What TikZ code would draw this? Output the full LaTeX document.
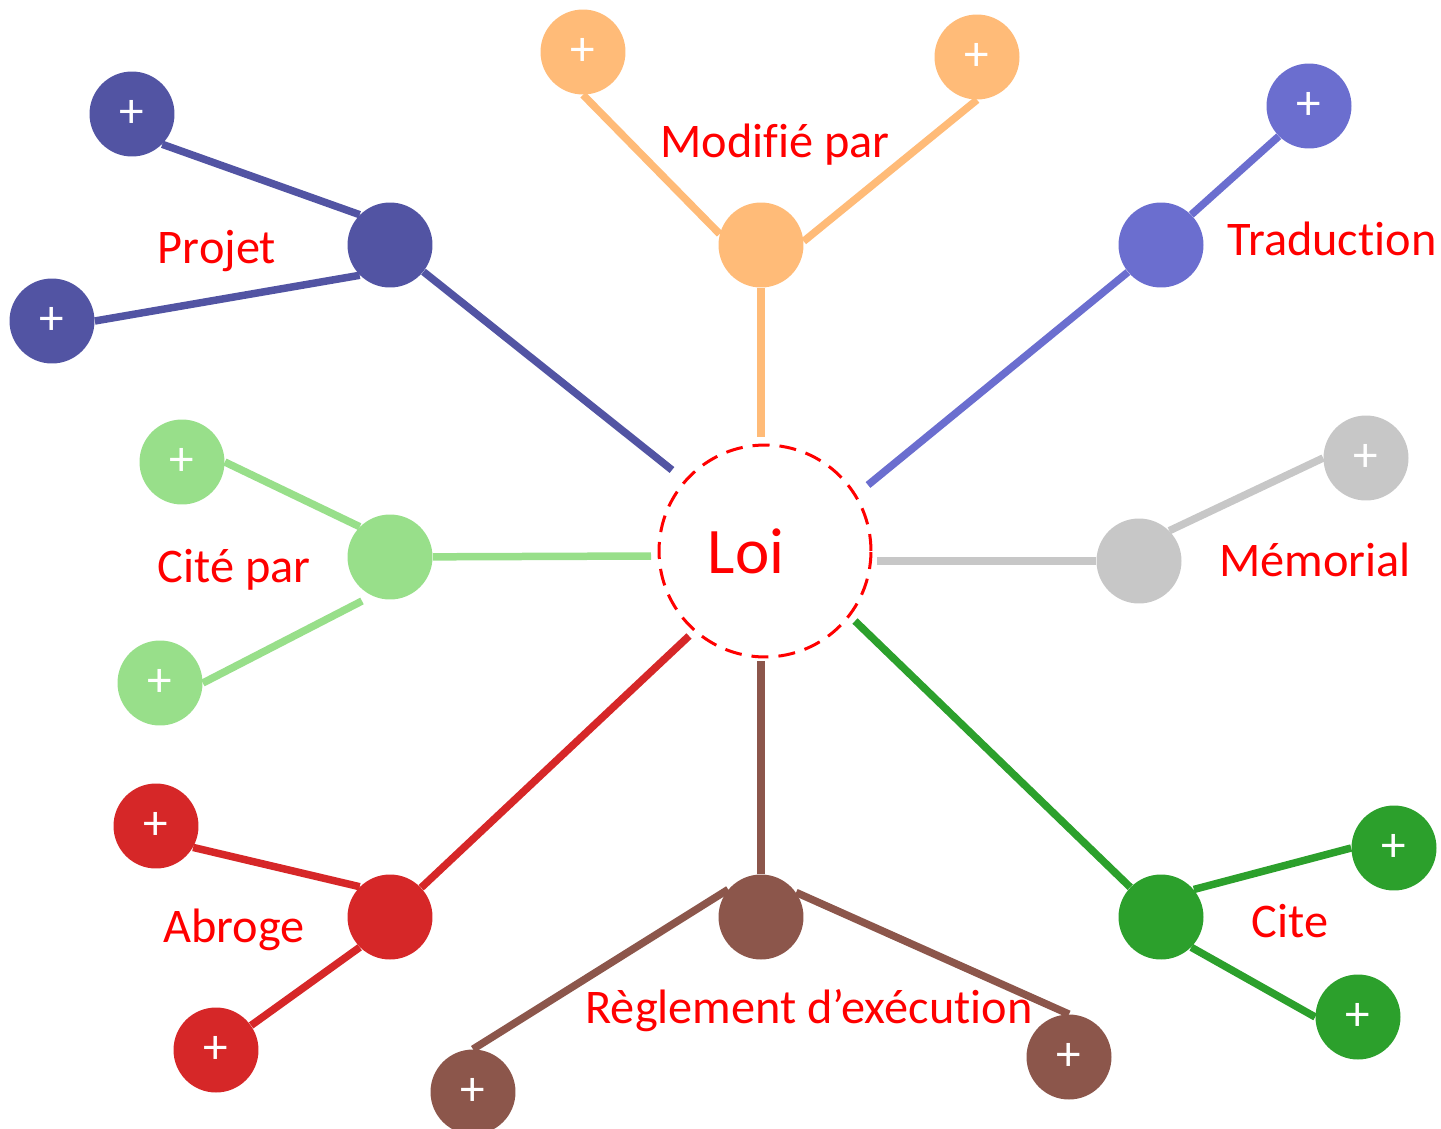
\documentclass[tikz,border=0pt]{standalone}
\usepackage{fontspec}
\setmainfont{Carlito}[Ligatures=CommonOff]
\usetikzlibrary{shapes}
\definecolor{projetcol}{HTML}{5254A3}
\definecolor{modifcol}{HTML}{FFBB78}
\definecolor{tradcol}{HTML}{6B6ECF}
\definecolor{memocol}{HTML}{C7C7C7}
\definecolor{citecol}{HTML}{2CA02C}
\definecolor{reglcol}{HTML}{8C564B}
\definecolor{abrocol}{HTML}{D62728}
\definecolor{citeparcol}{HTML}{98DF8A}

\begin{document}
\begin{tikzpicture}[x=0.02cm,y=-0.02cm,
loinode/.style={circle, draw=red, line width=0.06cm, dash pattern=on 0.34cm off 0.2cm, minimum size=4.24cm, inner sep=0pt},
hubnode/.style={circle, minimum size=1.7cm, inner sep=0pt},
leafnode/.style={circle, minimum size=1.7cm, inner sep=0pt, text=white, font=\fontsize{28}{28}\selectfont},
labelnode/.style={text=red, font=\fontsize{27.5}{30}\selectfont},
branch/.style={line width=0.15cm}
]
\useasboundingbox (0,0) rectangle (1441,1129);

%Nodes
\node[loinode] at (765,551) (LOI) {};
\node[text=red, font=\fontsize{37}{40}\selectfont] at (746,551) (LOI-label) {Loi};

\node[hubnode,fill=projetcol] at (390,245) (P) {};
\node[leafnode,fill=projetcol] at (132,114) (P-1) {+};
\node[leafnode,fill=projetcol] at (52,321) (P-2) {+};
\node[labelnode] at (217,251) (P-label) {Projet};

\node[hubnode,fill=modifcol] at (761,245) (M) {};
\node[leafnode,fill=modifcol] at (583,52) (M-1) {+};
\node[leafnode,fill=modifcol] at (977,57) (M-2) {+};
\node[labelnode] at (775,145) (M-label) {Modifié par};

\node[hubnode,fill=tradcol] at (1161,245) (T) {};
\node[leafnode,fill=tradcol] at (1309,106) (T-1) {+};
\node[labelnode] at (1332,239) (T-label) {Traduction};

\node[hubnode,fill=memocol] at (1139,561) (ME) {};
\node[leafnode,fill=memocol] at (1366,458) (ME-1) {+};
\node[labelnode] at (1315,560) (ME-label) {Mémorial};

\node[hubnode,fill=citecol] at (1161,917) (C) {};
\node[leafnode,fill=citecol] at (1394,848) (C-1) {+};
\node[leafnode,fill=citecol] at (1358,1017) (C-2) {+};
\node[labelnode] at (1290,921) (C-label) {Cite};

\node[hubnode,fill=reglcol] at (761,917) (R) {};
\node[leafnode,fill=reglcol] at (473,1092) (R-1) {+};
\node[leafnode,fill=reglcol] at (1069,1057) (R-2) {+};
\node[labelnode] at (809,1011) (R-label) {Règlement d’exécution};

\node[hubnode,fill=abrocol] at (390,917) (A) {};
\node[leafnode,fill=abrocol] at (156,826) (A-1) {+};
\node[leafnode,fill=abrocol] at (216,1050) (A-2) {+};
\node[labelnode] at (234,930) (A-label) {Abroge};

\node[hubnode,fill=citeparcol] at (390,557) (CP) {};
\node[leafnode,fill=citeparcol] at (182,462) (CP-1) {+};
\node[leafnode,fill=citeparcol] at (160,683) (CP-2) {+};
\node[labelnode] at (234,570) (CP-label) {Cité par};

% spoke ends next to the dashed circle
\coordinate (P-end) at (672,470);
\coordinate (M-end) at (761,437);
\coordinate (T-end) at (868,485);
\coordinate (ME-end) at (877,561);
\coordinate (C-end) at (855,621);
\coordinate (R-end) at (761,661);
\coordinate (A-end) at (689,636);
\coordinate (CP-end) at (651,556);
\coordinate (CP-2-end) at (362,601);

%Lines
\draw[branch,projetcol] (P) -- (P-end);
\draw[branch,projetcol] (P.135) -- (P-1.-45);
\draw[branch,projetcol] (P.-135) -- (P-2.0);
\draw[branch,modifcol] (M) -- (M-end);
\draw[branch,modifcol] (M.165) -- (M-1.-90);
\draw[branch,modifcol] (M.5) -- (M-2.-90);
\draw[branch,tradcol] (T) -- (T-end);
\draw[branch,tradcol] (T.45) -- (T-1.-135);
\draw[branch,memocol] (ME) -- (ME-end);
\draw[branch,memocol] (ME.45) -- (ME-1.180);
\draw[branch,citecol] (C) -- (C-end);
\draw[branch,citecol] (C.40) -- (C-1.180);
\draw[branch,citecol] (C.-45) -- (C-2.180);
\draw[branch,reglcol] (R) -- (R-end);
\draw[branch,reglcol] (R.140) -- (R-1.90);
\draw[branch,reglcol] (R.35) -- (R-2.90);
\draw[branch,abrocol] (A) -- (A-end);
\draw[branch,abrocol] (A.135) -- (A-1.-30);
\draw[branch,abrocol] (A.-135) -- (A-2.35);
\draw[branch,citeparcol] (CP) -- (CP-end);
\draw[branch,citeparcol] (CP.135) -- (CP-1.0);
\draw[branch,citeparcol] (CP-2-end) -- (CP-2.0);

\end{tikzpicture}
\end{document}
